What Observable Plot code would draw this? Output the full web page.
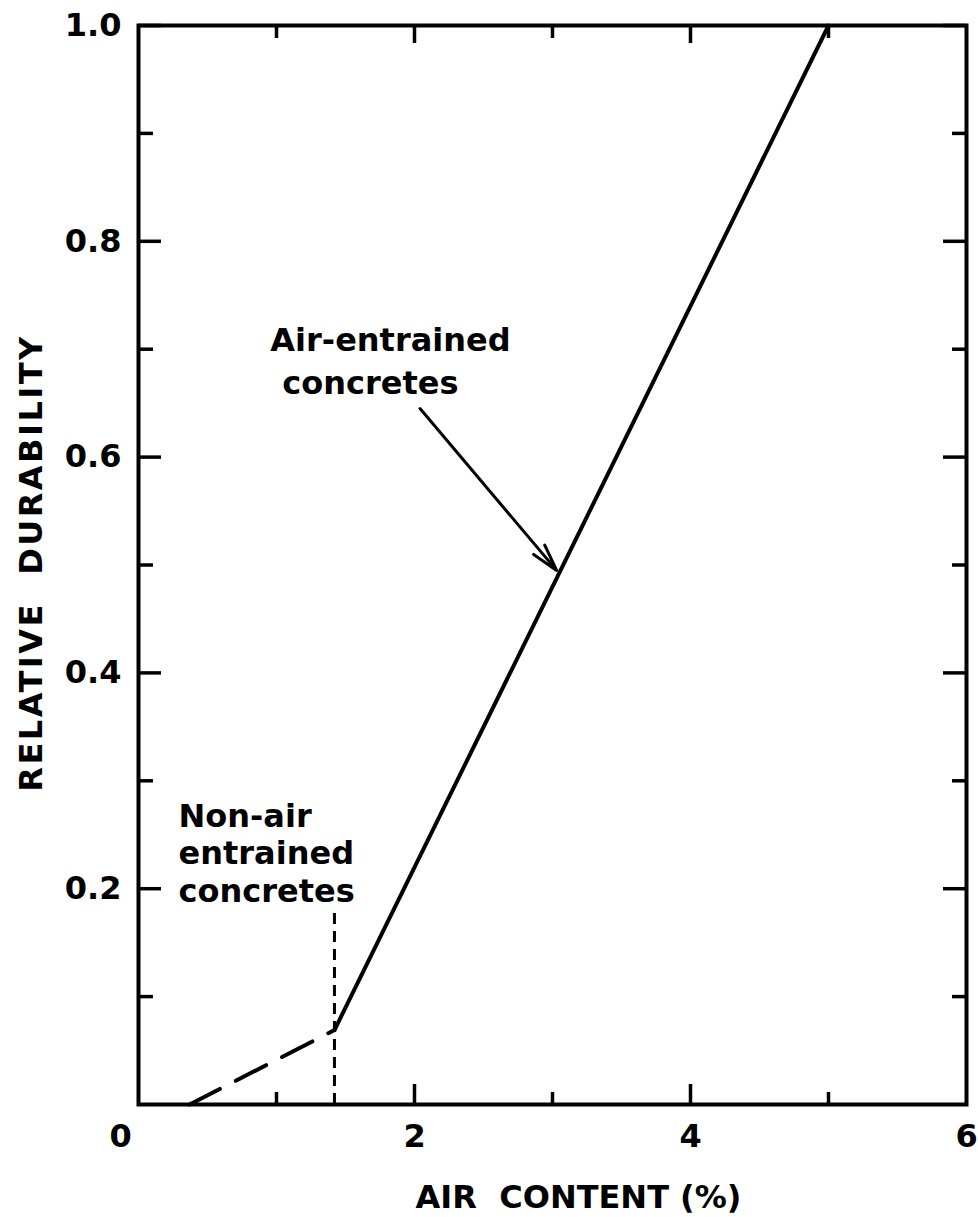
<!DOCTYPE html>
<html><head><meta charset="utf-8">
<script src="https://cdn.jsdelivr.net/npm/d3@7"></script>
<script src="https://cdn.jsdelivr.net/npm/@observablehq/plot@0.6"></script>
<style>
html,body{margin:0;padding:0;background:#fff;}
#chart svg{display:block;}
</style></head><body><div id="chart"></div>
<script>
// Relative durability vs air content
const dashedAir = [0.37, 1.42];
const dashedDur = [0.0, 0.069];
const solidAir = [1.42, 5.0];
const solidDur = [0.069, 1.0];
const splitAir = [1.42];
const splitTop = [0.18];

const xMajorTicks = [2, 4];
const xMinorTicks = [1, 3, 5];
const xTickLabels = [2, 4, 6];
const xZeroLabel = [0];
const yMajorTicks = [0.2, 0.4, 0.6, 0.8, 1.0];
const yMinorTicks = [0.1, 0.3, 0.5, 0.7, 0.9];

const arrowX1 = [2.04], arrowY1 = [0.645], arrowX2 = [3.03], arrowY2 = [0.495];
const noteAirLines = ["Air-entrained", "concretes"];
const noteAirX = [1.826, 1.68];
const noteAirY = [0.708, 0.668];
const noteNonAir = ["Non-air\nentrained\nconcretes"];
const noteNonAirX = [0.29];
const noteNonAirY = [0.2335];

const xTitle = "AIR  CONTENT (%)";
const yTitle = "RELATIVE  DURABILITY";

const W = 978, H = 1217, ML = 138, MR = 12, MT = 25, MB = 113;
const FW = W - ML - MR, FH = H - MT - MB;
const FONT = "DejaVu Sans";
const dashed = dashedAir.map((a, i) => ({air: a, dur: dashedDur[i]}));
const solid = solidAir.map((a, i) => ({air: a, dur: solidDur[i]}));
const notesAir = noteAirLines.map((t, i) => ({t, x: noteAirX[i], y: noteAirY[i]}));

// inward tick helpers (length in px)
const tickLeft = (ticks, len) => Plot.tickY(ticks, {y: d => d, insetRight: FW - len, strokeWidth: 3.5});
const tickRight = (ticks, len) => Plot.tickY(ticks, {y: d => d, insetLeft: FW - len, strokeWidth: 3.5});
const tickBottom = (ticks, len) => Plot.tickX(ticks, {x: d => d, insetTop: FH - len, strokeWidth: 3.5});
const tickTop = (ticks, len) => Plot.tickX(ticks, {x: d => d, insetBottom: FH - len, strokeWidth: 3.5});

const chart = Plot.plot({
  width: W,
  height: H,
  marginLeft: ML,
  marginRight: MR,
  marginTop: MT,
  marginBottom: MB,
  style: {fontFamily: FONT, fontWeight: "bold", fontSize: "32px", background: "#fff", color: "#000"},
  x: {domain: [0, 6], axis: null},
  y: {domain: [0, 1], axis: null},
  marks: [
    tickLeft(yMajorTicks, 23),
    tickLeft(yMinorTicks, 15),
    tickRight(yMajorTicks, 23),
    tickRight(yMinorTicks, 14),
    tickBottom(xMajorTicks, 20),
    tickBottom(xMinorTicks, 12),
    tickTop(xMajorTicks, 18),
    tickTop(xMinorTicks, 13),
    // tick labels
    Plot.text(yMajorTicks, {y: d => d, frameAnchor: "left", dx: -17, textAnchor: "end", text: d3.format(".1f"), fontSize: 32, fontWeight: "bold"}),
    Plot.text(xTickLabels, {x: d => d, frameAnchor: "bottom", dy: 42, text: d => String(d), fontSize: 32, fontWeight: "bold"}),
    Plot.text(xZeroLabel, {x: d => d, frameAnchor: "bottom", dy: 42, dx: -18, text: d => String(d), fontSize: 32, fontWeight: "bold"}),
    // axis titles
    Plot.text([xTitle], {frameAnchor: "bottom", dy: 103, dx: 26, textAnchor: "middle", fontSize: 32, fontWeight: "bold"}),
    Plot.text([yTitle], {frameAnchor: "left", textAnchor: "middle", rotate: -90, dx: -107, dy: -2, fontSize: 32, fontWeight: "bold"}),
    // frame
    Plot.frame({strokeWidth: 4}),
    // data
    Plot.line(dashed, {x: "air", y: "dur", strokeWidth: 4, strokeDasharray: "34,18"}),
    Plot.line(solid, {x: "air", y: "dur", strokeWidth: 4}),
    Plot.ruleX(splitAir, {x: d => d, y1: 0, y2: (d, i) => splitTop[i], strokeWidth: 3, strokeDasharray: "11,7"}),
    // annotations
    Plot.arrow(arrowX1, {x1: d => d, y1: (d, i) => arrowY1[i], x2: (d, i) => arrowX2[i], y2: (d, i) => arrowY2[i], strokeWidth: 3, headLength: 14, headAngle: 30}),
    Plot.text(notesAir, {x: "x", y: "y", text: "t", fontSize: 32, fontWeight: "bold"}),
    Plot.text(noteNonAir, {x: (d, i) => noteNonAirX[i], y: (d, i) => noteNonAirY[i], text: d => d, textAnchor: "start", lineHeight: 1.16, fontSize: 32, fontWeight: "bold"})
  ]
});
document.getElementById("chart").appendChild(chart);
d3.select(chart).selectAll("text").filter(function() { return this.textContent === yTitle; }).style("letter-spacing", "2.5px");
</script></body></html>
